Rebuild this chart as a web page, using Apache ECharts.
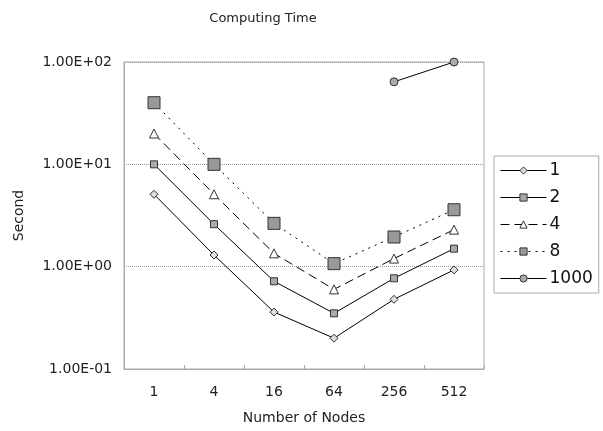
<!DOCTYPE html>
<html><head><meta charset="utf-8">
<script src="https://cdn.jsdelivr.net/npm/echarts@6/dist/echarts.min.js"></script>
<style>html,body{margin:0;padding:0;background:#fff}#c{width:603px;height:431px}</style>
</head><body><div id="c"></div>
<script>
var categories = ['1','4','16','64','256','512'];
var s1 = [5.1, 1.3, 0.36, 0.2, 0.48, 0.93];
var s2 = [10, 2.6, 0.72, 0.35, 0.77, 1.5];
var s4 = [20, 5.1, 1.35, 0.6, 1.2, 2.3];
var s8 = [40, 10, 2.65, 1.07, 1.95, 3.6];
var s1000 = [null, null, null, null, 64, 100];
var seriesNames = ['1','2','4','8','1000'];

function fmt(v){
  var e = Math.round(Math.log10(v));
  var m = v / Math.pow(10, e);
  var s = e < 0 ? '-' : '+';
  var a = Math.abs(e);
  return m.toFixed(2) + 'E' + s + (a < 10 ? '0' + a : a);
}
var font = 'DejaVu Sans';
function mk(name, data, symbol, size, fill, ltype){
  return {
    name: name, type: 'line', data: data, symbol: symbol, symbolSize: size,
    connectNulls: false,
    lineStyle: {color: '#000', width: 1, type: ltype},
    itemStyle: {color: fill, borderColor: '#333', borderWidth: 1},
    emphasis: {disabled: true}
  };
}
var chart = echarts.init(document.getElementById('c'));
chart.setOption({
  animation: false,
  backgroundColor: '#fff',
  title: {text: 'Computing Time', left: 258, top: 7, textAlign: 'center',
    textStyle: {fontFamily: font, fontSize: 13, fontWeight: 'normal', color: '#222'}},
  grid: {left: 124, right: 119, top: 62, bottom: 62, show: true, borderColor: '#aaa', borderWidth: 1},
  legend: {
    orient: 'vertical', left: 494, top: 156, width: 103,
    data: seriesNames, itemWidth: 46, itemHeight: 9, itemGap: 10,
    padding: [6, 6, 6, 6], borderColor: '#aaa', borderWidth: 1,
    itemStyle: {borderWidth: 1},
    lineStyle: {width: 1},
    textStyle: {fontFamily: font, fontSize: 17, color: '#111', padding: [0,0,0,-2]}
  },
  xAxis: {
    type: 'category', data: categories, boundaryGap: true,
    name: 'Number of Nodes', nameLocation: 'middle', nameGap: 42,
    nameTextStyle: {fontFamily: font, fontSize: 14, color: '#222'},
    axisLine: {lineStyle: {color: '#aaa'}},
    axisTick: {show: true, inside: true, length: 4, lineStyle: {color: '#aaa'}},
    axisLabel: {fontFamily: font, fontSize: 14, color: '#222', margin: 16},
    splitLine: {show: false}
  },
  yAxis: {
    type: 'log', logBase: 10, min: 0.1, max: 100,
    name: 'Second', nameLocation: 'middle', nameGap: 98,
    nameTextStyle: {fontFamily: font, fontSize: 14, color: '#222'},
    axisLine: {show: true, lineStyle: {color: '#aaa'}},
    axisTick: {show: false},
    axisLabel: {fontFamily: font, fontSize: 14, color: '#222', margin: 12, formatter: fmt},
    splitLine: {show: true, lineStyle: {color: '#999', type: 'dotted'}},
    minorTick: {show: false}
  },
  series: [
    mk('1', s1, 'diamond', 8, '#ddd', 'solid'),
    mk('2', s2, 'rect', 7, '#aaa', 'solid'),
    mk('4', s4, 'triangle', 9, '#fff', [9, 5]),
    mk('8', s8, 'rect', 12, '#999', [2, 5]),
    mk('1000', s1000, 'circle', 8, '#aaa', 'solid')
  ]
});
</script></body></html>
